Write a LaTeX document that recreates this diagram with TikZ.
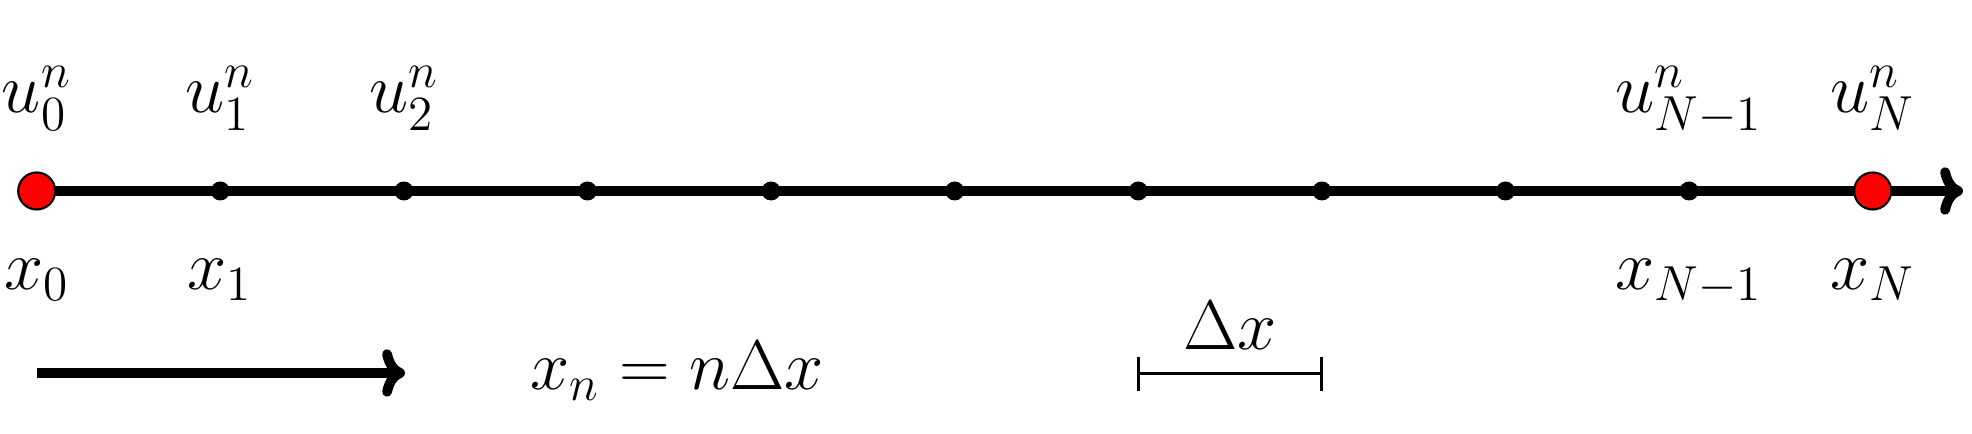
\documentclass[tikz,border=0pt]{standalone}
\usepackage{fix-cm}
\usetikzlibrary{arrows.meta}
\begin{document}
\begin{tikzpicture}[x=0.1mm,y=-0.1mm,
  thickline/.style={line width=1mm,-{Computer Modern Rightarrow[length=6.5pt,width=13.5pt,line width=2.8pt]}},
  dotpt/.style={circle,fill=black,inner sep=0pt,minimum size=1.9mm},
  redpt/.style={circle,fill=red,draw=black,line width=0.6pt,inner sep=0pt,minimum size=3.7mm},
  lab/.style={anchor=base,inner sep=0pt,font=\fontsize{20}{24}\selectfont},
  bracket/.style={line width=0.3mm}]
\useasboundingbox (0,0) rectangle (1972,434);
\foreach \i in {0,...,10} {
  \coordinate (p\i) at ({36.7+183.6*\i},191);
}
\coordinate (tip) at (1963,191);
\draw[thickline] (p0) -- (tip);
\foreach \i in {1,...,9} {
  \node[dotpt] (d\i) at (p\i) {};
}
\node[redpt] (d0) at (p0) {};
\node[redpt] (d10) at (p10) {};
% labels above
\node[lab] (u0) at (36.7,113) {$u_0^n$};
\node[lab] (u1) at ({36.7+183.6},113) {$u_1^n$};
\node[lab] (u2) at ({36.7+2*183.6},113) {$u_2^n$};
\node[lab] (u9) at ({36.7+9*183.6},113) {$u_{N-1}^n$};
\node[lab] (u10) at ({36.7+10*183.6},113) {$u_N^n$};
% labels below
\node[lab] (x0) at (36.7,290) {$x_0$};
\node[lab] (x1) at ({36.7+183.6},290) {$x_1$};
\node[lab] (x9) at ({36.7+9*183.6},290) {$x_{N-1}$};
\node[lab] (x10) at ({36.7+10*183.6},290) {$x_N$};
% bottom arrow
\coordinate (a0) at (36.7,373);
\coordinate (a1) at (405,373);
\draw[thickline] (a0) -- (a1);
\node[lab] (eq) at (677,390) {$x_n = n\Delta x$};
% Delta x bracket
\coordinate (b0) at ({36.7+6*183.6},374);
\coordinate (b1) at ({36.7+7*183.6},374);
\draw[bracket] (b0) -- (b1);
\draw[bracket] ([yshift=1.7mm]b0) -- ([yshift=-1.7mm]b0);
\draw[bracket] ([yshift=1.7mm]b1) -- ([yshift=-1.7mm]b1);
\node[lab] (dx) at (1230,350) {$\Delta x$};
\end{tikzpicture}
\end{document}
